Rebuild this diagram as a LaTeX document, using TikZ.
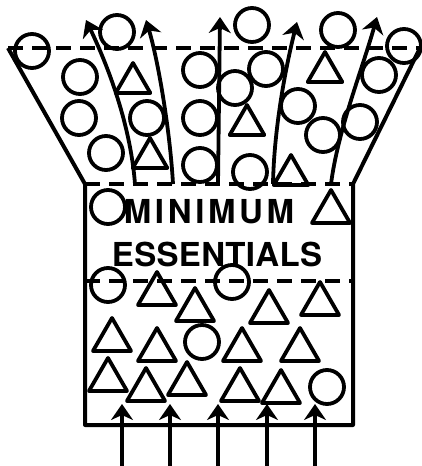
\documentclass[tikz,border=0pt]{standalone}
\usepackage{fontspec}
\setmainfont{TeX Gyre Heros}
\usetikzlibrary{shapes.geometric,arrows.meta}
\begin{document}
\begin{tikzpicture}[x=1pt,y=-1pt,line width=3.8pt,
  ball/.style={draw,circle,minimum size=34pt,inner sep=0pt},
  tri/.style={draw,regular polygon,regular polygon sides=3,minimum size=44pt,inner sep=0pt,line join=round},
  flow/.style={-{Stealth[length=16pt,width=22pt,inset=5pt]}},
  cut/.style={dash pattern=on 15pt off 9pt}]
\useasboundingbox (0,0) rectangle (422,466);
\draw[line width=4pt,line join=round] (8,48) -- (85,184) -- (85,425) -- (353,425) -- (353,184) -- (420,48);
\draw[cut] (8,48) -- (420,48);
\draw[cut] (85,184) -- (353,184);
\draw[cut] (85,281) -- (353,281);
\foreach \x/\y [count=\i] in {32/51,117/32,80/77,79/118,106/153,147/118,200/70,200/118,200/165,252/25,235/88,266/69,250/172,298/106,323/135,338/30,360/122,379/75,404/46,108/207,108/285,232/282,202/342,327/387}
  \node[ball] (c\i) at (\x,\y) {};
\foreach \x/\y [count=\i] in {133/83,150/158,247/125,325/72,291/175}
  \node[tri,minimum size=40pt] (t\i) at (\x,\y) {};
\foreach \x/\y [count=\i] in {331/212,157/294,195/310,269/312,320/304,112/340,157/350,242/350,300/350,108/380,146/390,187/384,240/390,281/392}
  \node[tri] (b\i) at (\x,\y) {};
\node (min) at (209,212) {\fontsize{33}{33}\selectfont\bfseries\addfontfeature{LetterSpace=11}MINIMUM};
\node (ess) at (217,254) {\fontsize{33}{33}\selectfont\bfseries\addfontfeature{LetterSpace=1}ESSENTIALS};
\foreach \x [count=\i] in {122,170,218,267,315} {
  \coordinate (in\i) at (\x,466);
  \coordinate (up\i) at (\x,404);
  \draw[flow] (in\i) -- (up\i);
}
\coordinate (s1) at (135,184); \coordinate (e1) at (86,20);
\coordinate (s2) at (173,184); \coordinate (e2) at (146,20);
\coordinate (s3) at (218,184); \coordinate (e3) at (220,17);
\coordinate (s4) at (273,184); \coordinate (e4) at (297,22);
\coordinate (s5) at (331,184); \coordinate (e5) at (377,17);
\draw[flow] (s1) .. controls (130,120) and (105,60) .. (e1);
\draw[flow] (s2) .. controls (170,130) and (158,60) .. (e2);
\draw[flow] (s3) -- (e3);
\draw[flow] (s4) .. controls (274,130) and (285,70) .. (e4);
\draw[flow] (s5) .. controls (338,130) and (362,70) .. (e5);
\end{tikzpicture}
\end{document}
